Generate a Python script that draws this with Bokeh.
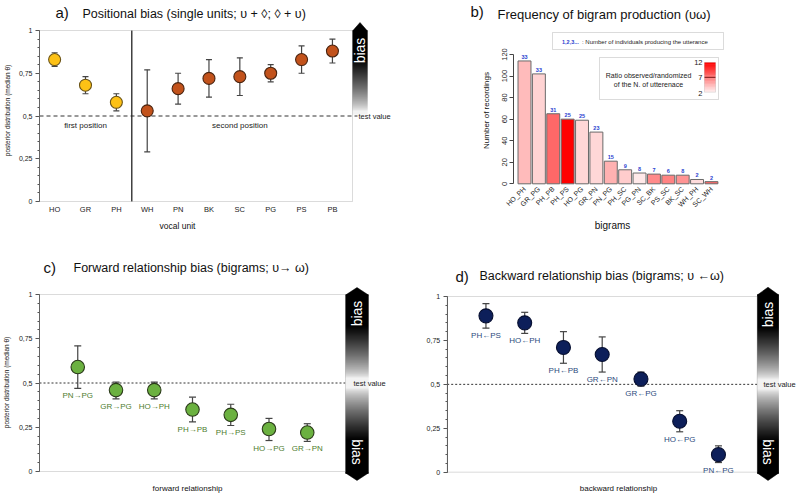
import math
from bokeh.plotting import figure
from bokeh.models import Range1d, FixedTicker, BoxAnnotation, ColumnDataSource
from bokeh.layouts import column, row
from bokeh.embed import file_html
from bokeh.resources import INLINE
from bokeh.core.properties import value
from bokeh.transform import linear_cmap

FONT = "Liberation Sans"

# ---------------- data ----------------
# a) positional bias
units_a = ["HO", "GR", "PH", "WH", "PN", "BK", "SC", "PG", "PS", "PB"]
median_a = [0.83, 0.68, 0.58, 0.53, 0.66, 0.72, 0.73, 0.75, 0.83, 0.88]
low_a = [0.79, 0.63, 0.53, 0.29, 0.57, 0.61, 0.62, 0.70, 0.75, 0.81]
high_a = [0.87, 0.73, 0.63, 0.77, 0.75, 0.83, 0.84, 0.80, 0.91, 0.95]
n_first = 3

# b) bigram frequency
bigrams = ["HO_PH", "GR_PG", "PH_PB", "PH_PS", "HO_PG", "GR_PN", "PN_PG",
           "PH_SC", "PG_PN", "SC_BK", "PS_SC", "BK_SC", "WH_PH", "SC_WH"]
recordings = [114, 102, 65, 60, 59, 48, 21, 13, 10, 9, 8, 8, 4, 2]
individuals = [33, 33, 31, 25, 25, 23, 15, 9, 8, 7, 6, 8, 2, 2]
ratio = [4.3, 3.3, 7.7, 12.0, 3.1, 3.1, 4.7, 3.6, 2.4, 6.3, 6.6, 5.9, 2.9, 7.7]
ratio_ticks = [2, 7, 12]
count_ticks = [0, 20, 40, 60, 80, 100, 120]

# c) forward relationship
fwd_labels = ["PN→PG", "GR→PG", "HO→PH", "PH→PB", "PH→PS", "HO→PG", "GR→PN"]
fwd_median = [0.59, 0.46, 0.46, 0.35, 0.32, 0.24, 0.22]
fwd_low = [0.47, 0.41, 0.41, 0.28, 0.26, 0.175, 0.17]
fwd_high = [0.71, 0.505, 0.505, 0.42, 0.38, 0.30, 0.27]

# d) backward relationship
bwd_labels = ["PH←PS", "HO←PH", "PH←PB", "GR←PN", "GR←PG", "HO←PG", "PN←PG"]
bwd_median = [0.89, 0.85, 0.71, 0.67, 0.53, 0.29, 0.10]
bwd_low = [0.82, 0.79, 0.62, 0.57, 0.49, 0.23, 0.055]
bwd_high = [0.96, 0.91, 0.80, 0.77, 0.57, 0.35, 0.15]

theta_ticks = [0, 0.25, 0.5, 0.75, 1]
theta_tick_labels = ["0", "0,25", "0,5", "0,75", "1"]
test_value = 0.5


# ---------------- helpers ----------------
class Geo:
    """maps local pixel positions of a panel to data coordinates"""
    def __init__(self, w, h, x0, px0, sx, y0, py0, sy):
        self.w, self.h = w, h
        self.x0, self.px0, self.sx = x0, px0, sx
        self.y0, self.py0, self.sy = y0, py0, sy

    def x(self, px):
        return self.x0 + (px - self.px0) / self.sx

    def y(self, py):
        return self.y0 + (self.py0 - py) / self.sy


def make_fig(g):
    p = figure(width=g.w, height=g.h,
               x_range=Range1d(g.x(0), g.x(g.w)),
               y_range=Range1d(g.y(g.h), g.y(0)),
               output_backend="svg", toolbar_location=None,
               min_border_left=0, min_border_right=0, min_border_top=0, min_border_bottom=0)
    p.outline_line_color = None
    p.grid.visible = False
    p.background_fill_color = "white"
    p.border_fill_color = "white"
    return p


def txt(p, g, px, py, text, size, color="#111", align="center", angle=0.0, style="normal"):
    p.text(x=[g.x(px)], y=[g.y(py)], text=[text], text_font=value(FONT),
           text_font_size=f"{size}px", text_color=color, text_align=align,
           text_baseline="middle", angle=angle, text_font_style=style)


def theta_axis(p, xloc):
    ax = p.yaxis[0]
    ax.fixed_location = xloc
    ax.ticker = FixedTicker(ticks=theta_ticks, minor_ticks=[k * 0.05 for k in range(21)])
    ax.major_label_overrides = dict(zip(theta_ticks, theta_tick_labels))
    ax.bounds = (0, 1)
    ax.axis_line_color = "#555"
    ax.major_tick_line_color = "#555"
    ax.minor_tick_line_color = "#555"
    ax.major_tick_out = 4
    ax.major_tick_in = 0
    ax.minor_tick_out = 2
    ax.minor_tick_in = 0
    ax.major_label_standoff = 3
    ax.major_label_text_font = FONT
    ax.major_label_text_font_size = "7px"
    ax.major_label_text_color = "#222"


def gray(v):
    c = int(round(255 * (1 - v)))
    return "#%02x%02x%02x" % (c, c, c)


def bias_arrow(p, g, xl, xr, tip_top, base_top, base_bot, tip_bot, mid, double):
    xs_l, xs_r = g.x(xl), g.x(xr)
    xm = g.x((xl + xr) / 2)
    tops, bots, cols = [], [], []
    py = base_top
    while py < base_bot:
        d = abs(py + 0.5 - mid)
        v = min(1.0, max(0.0, (d - 5) / 52.0)) ** 0.75
        tops.append(g.y(py))
        bots.append(g.y(min(py + 1.8, base_bot)))
        cols.append(gray(0.05 + 0.95 * v))
        py += 1
    p.quad(left=xs_l, right=xs_r, top=tops, bottom=bots, fill_color=cols, line_color=None)
    p.patch([xs_l, xm, xs_r], [g.y(base_top + 0.6), g.y(tip_top), g.y(base_top + 0.6)],
            fill_color="black", line_color="black", line_width=0.5)
    if double:
        p.patch([xs_l, xm, xs_r], [g.y(base_bot - 0.6), g.y(tip_bot), g.y(base_bot - 0.6)],
                fill_color="black", line_color="black", line_width=0.5)


def bias_text(p, g, px, py, angle):
    txt(p, g, px, py, "bias", 14, color="white", angle=angle)


def error_points(p, xs, med, lo, hi, fill, outline, size, cap):
    p.segment(x0=xs, y0=lo, x1=xs, y1=hi, line_color="#444", line_width=1.2)
    p.scatter(x=xs + xs, y=lo + hi, marker="dash", size=cap, line_color="#444", line_width=1.2)
    p.scatter(x=xs, y=med, size=size, fill_color=fill, line_color=outline, line_width=1.1)


# ---------------- panel a ----------------
ga = Geo(400, 250, x0=0.51, px0=39, sx=313 / 10.14, y0=0, py0=201, sy=171)
pa = make_fig(ga)
theta_axis(pa, 0.51)
xa = list(range(1, len(units_a) + 1))
xax = pa.xaxis[0]
xax.fixed_location = 0
xax.ticker = FixedTicker(ticks=xa, minor_ticks=[])
xax.major_label_overrides = dict(zip(xa, units_a))
xax.axis_line_color = None
xax.major_tick_line_color = None
xax.major_tick_out = 0
xax.major_tick_in = 0
xax.major_label_standoff = 3
xax.major_label_text_font = FONT
xax.major_label_text_font_size = "7.5px"
xax.major_label_text_color = "#222"

pa.add_layout(BoxAnnotation(left=0.51, right=10.65, bottom=0, top=1, fill_color=None,
                            line_color="#888", line_width=1))
pa.segment(x0=[0.51], x1=[ga.x(357)], y0=[test_value], y1=[test_value],
           line_color="#333", line_dash="4 3", line_width=1)
pa.segment(x0=[n_first + 0.5], x1=[n_first + 0.5], y0=[0], y1=[1], line_color="#222", line_width=1.3)
error_points(pa, xa[:n_first], median_a[:n_first], low_a[:n_first], high_a[:n_first],
             "#FDC115", "#6b5418", 12, 6)
error_points(pa, xa[n_first:], median_a[n_first:], low_a[n_first:], high_a[n_first:],
             "#C2521B", "#4a2410", 12, 6)
pa.text(x=[2, 7], y=[0.445, 0.445], text=["first position", "second position"],
        text_font=value(FONT), text_font_size="8px", text_color="#222",
        text_align="center", text_baseline="middle")
bias_arrow(pa, ga, 352, 367, 22, 30, 114, None, 115.5, False)
bias_text(pa, ga, 359.5, 50, math.pi / 2)
txt(pa, ga, 358, ga.py0 - test_value * ga.sy, "test value", 7.5, color="#222", align="left")
txt(pa, ga, 55, 12, "a)", 15, align="left")
txt(pa, ga, 82, 13, "Positional bias (single units; υ + ◊; ◊ + υ)", 12.5, align="left")
txt(pa, ga, 177, 225, "vocal unit", 8.5)
txt(pa, ga, 7, 110, "posterior distribution (median θ)", 6.5, angle=math.pi / 2)

# ---------------- panel b ----------------
gb = Geo(400, 250, x0=1, px0=124, sx=14.38, y0=0, py0=183.3, sy=129.3 / 120)
pb = make_fig(gb)
xb = list(range(1, len(bigrams) + 1))


def ratio_color(r):
    t = (r - 2) / 10.0
    c = int(round(242 * (1 - t)))
    return "#%02x%02x%02x" % (255, c, c)


palette = [ratio_color(2 + 10 * k / 255) for k in range(256)]
src_b = ColumnDataSource(dict(x=xb, top=recordings, ratio=ratio,
                              ind=[str(v) for v in individuals]))
pb.vbar(x="x", top="top", bottom=0, width=0.9, source=src_b,
        fill_color=linear_cmap("ratio", palette, 2, 12), line_color="#6a6a6a", line_width=1)
pb.text(x="x", y="top", text="ind", source=src_b, y_offset=-2, text_font=value(FONT),
        text_font_size="5.5px", text_font_style="bold", text_color="#2a3fd0",
        text_align="center", text_baseline="bottom")
yb = pb.yaxis[0]
yb.fixed_location = gb.x(113.3)
yb.ticker = FixedTicker(ticks=count_ticks, minor_ticks=[])
yb.bounds = (0, 120)
yb.axis_line_color = "#444"
yb.major_tick_line_color = "#444"
yb.major_tick_out = 4
yb.major_tick_in = 0
yb.major_label_orientation = "vertical"
yb.major_label_standoff = 3
yb.major_label_text_font = FONT
yb.major_label_text_font_size = "7.5px"
yb.major_label_text_color = "#222"
xbx = pb.xaxis[0]
xbx.fixed_location = 0
xbx.ticker = FixedTicker(ticks=xb, minor_ticks=[])
xbx.major_label_overrides = dict(zip(xb, bigrams))
xbx.major_label_orientation = math.pi / 4
xbx.axis_line_color = None
xbx.major_tick_line_color = None
xbx.major_tick_out = 0
xbx.major_tick_in = 0
xbx.major_label_standoff = 4
xbx.major_label_text_font = FONT
xbx.major_label_text_font_size = "7px"
xbx.major_label_text_color = "#222"

# legend boxes
pb.add_layout(BoxAnnotation(left=gb.x(152), right=gb.x(323), top=gb.y(32), bottom=gb.y(49),
                            fill_color=None, line_color="#888", line_width=1))
txt(pb, gb, 161.5, 41, "1,2,3...", 5.5, color="#2a3fd0", align="left", style="bold")
txt(pb, gb, 181.5, 41, ": Number of individuals producing the utterance", 6, color="#222", align="left")
pb.add_layout(BoxAnnotation(left=gb.x(199), right=gb.x(318), top=gb.y(57), bottom=gb.y(99),
                            fill_color=None, line_color="#888", line_width=1))
txt(pb, gb, 248, 75, "Ratio observed/randomized", 7, color="#222")
txt(pb, gb, 248, 84.3, "of the N. of utterenace", 7, color="#222")
cb_top, cb_bot = 62.0, 91.7


def cb_px(r):
    return cb_bot - (r - ratio_ticks[0]) / (ratio_ticks[-1] - ratio_ticks[0]) * (cb_bot - cb_top)


steps = 40
levels = [ratio_ticks[0] + (ratio_ticks[-1] - ratio_ticks[0]) * k / steps for k in range(steps)]
pb.quad(left=gb.x(304), right=gb.x(315),
        bottom=[gb.y(cb_px(r)) for r in levels],
        top=[gb.y(max(cb_px(r + 10.0 / steps) - 0.6, cb_top)) for r in levels],
        fill_color=[ratio_color(r + 5.0 / steps) for r in levels], line_color=None)
pb.add_layout(BoxAnnotation(left=gb.x(304), right=gb.x(315), top=gb.y(cb_top), bottom=gb.y(cb_bot),
                            fill_color=None, line_color="#999", line_width=0.8))
pb.segment(x0=[gb.x(304)], x1=[gb.x(315)], y0=[gb.y(cb_px(7))], y1=[gb.y(cb_px(7))],
           line_color="#7a1a1a", line_width=1)
for r in ratio_ticks:
    txt(pb, gb, 302, cb_px(r) + (1.5 if r == ratio_ticks[0] else 0), str(r), 7.5,
        color="#222", align="right")
txt(pb, gb, 70, 11, "b)", 15, align="left")
txt(pb, gb, 97, 13.5, "Frequency of bigram production (υω)", 13, align="left")
txt(pb, gb, 212, 225, "bigrams", 10)
txt(pb, gb, 86, 110, "Number of recordings", 8, angle=math.pi / 2)

# ---------------- panel c ----------------
gc = Geo(400, 246, x0=0, px0=39, sx=306 / 8, y0=0, py0=221, sy=177)
pc = make_fig(gc)
pc.xaxis.visible = False
theta_axis(pc, 0)
xc = list(range(1, len(fwd_labels) + 1))
pc.add_layout(BoxAnnotation(left=0, right=8, bottom=0, top=1, fill_color=None,
                            line_color="#888", line_width=1))
pc.segment(x0=[0], x1=[gc.x(345)], y0=[test_value], y1=[test_value],
           line_color="#333", line_dash="2 2", line_width=1)
error_points(pc, xc, fwd_median, fwd_low, fwd_high, "#6BB140", "#2b3a1a", 13.5, 7)
pc.text(x=xc, y=fwd_low, text=fwd_labels, y_offset=3, text_font=value(FONT),
        text_font_size="8px", text_color="#4e7d2e", text_align="center", text_baseline="top")
bias_arrow(pc, gc, 345, 368, 37, 44, 223, 230, 132.5, True)
bias_text(pc, gc, 356.5, 63, math.pi / 2)
bias_text(pc, gc, 356.5, 201.5, -math.pi / 2)
txt(pc, gc, 353, gc.py0 - test_value * gc.sy, "test value", 7.5, color="#222", align="left")
txt(pc, gc, 43, 17, "c)", 15, align="left")
txt(pc, gc, 73, 17, "Forward relationship bias (bigrams; υ→ ω)", 12.5, align="left")
txt(pc, gc, 187, 238, "forward relationship", 8)
txt(pc, gc, 6, 132, "posterior distribution (median θ)", 6.5, angle=math.pi / 2)

# ---------------- panel d ----------------
gd = Geo(400, 246, x0=0, px0=46.7, sx=310 / 8, y0=0, py0=221.7, sy=175.7)
pd_ = make_fig(gd)
pd_.xaxis.visible = False
theta_axis(pd_, 0)
xd = list(range(1, len(bwd_labels) + 1))
pd_.add_layout(BoxAnnotation(left=0, right=8, bottom=0, top=1, fill_color=None,
                             line_color="#888", line_width=1))
pd_.segment(x0=[0], x1=[gd.x(358)], y0=[test_value], y1=[test_value],
            line_color="#333", line_dash="2 2", line_width=1)
error_points(pd_, xd, bwd_median, bwd_low, bwd_high, "#0D1F5A", "#070f30", 14, 7)
pd_.text(x=xd, y=bwd_low, text=bwd_labels, y_offset=3, text_font=value(FONT),
         text_font_size="8px", text_color="#2c4a7c", text_align="center", text_baseline="top")
bias_arrow(pd_, gd, 356.7, 378.3, 36.7, 44, 223, 230, 133.8, True)
bias_text(pd_, gd, 367.5, 64, math.pi / 2)
bias_text(pd_, gd, 367.5, 201.5, -math.pi / 2)
txt(pd_, gd, 363, gd.py0 - test_value * gd.sy, "test value", 7.5, color="#222", align="left")
txt(pd_, gd, 55, 25.5, "d)", 15, align="left")
txt(pd_, gd, 79, 25.5, "Backward relationship bias (bigrams; υ ←ω)", 12.5, align="left")
txt(pd_, gd, 218, 238, "backward relationship", 8)

layout = column(row(pa, pb), row(pc, pd_))
open("out.html", "w").write(file_html(layout, INLINE))
